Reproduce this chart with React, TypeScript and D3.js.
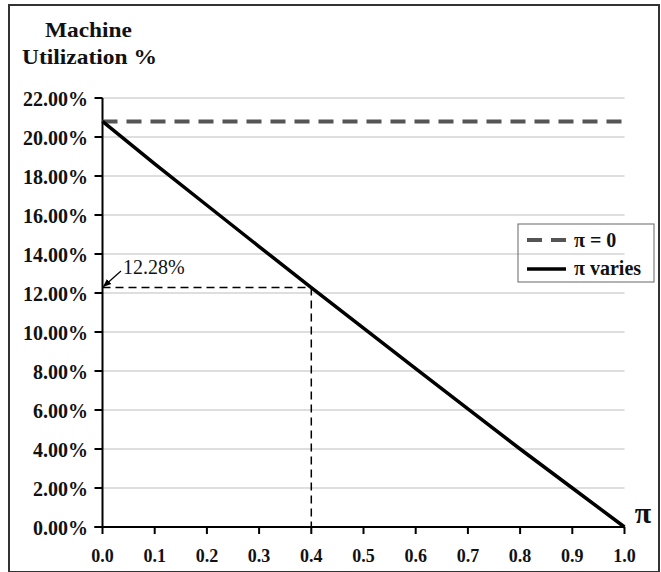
import React from "react";
import * as d3 from "d3";

const piValues = [0.0, 0.1, 0.2, 0.3, 0.4, 0.5, 0.6, 0.7, 0.8, 0.9, 1.0];
const utilVaries = [20.8, 18.62, 16.5, 14.38, 12.28, 10.2, 8.12, 6.06, 4.0, 2.0, 0.0];
const utilZero = [20.8, 20.8, 20.8, 20.8, 20.8, 20.8, 20.8, 20.8, 20.8, 20.8, 20.8];
const yTicks = [0, 2, 4, 6, 8, 10, 12, 14, 16, 18, 20, 22];
const xTicks = [0.0, 0.1, 0.2, 0.3, 0.4, 0.5, 0.6, 0.7, 0.8, 0.9, 1.0];
const markPi = 0.4;
const markValue = 12.28;
const legendLabels = ["\u03c0 = 0", "\u03c0 varies"];

const W = 661;
const H = 572;
const FONT = "Liberation Serif, DejaVu Serif, serif";

export default function App() {
  const x = d3.scaleLinear().domain([0, 1]).range([102.5, 624.5]);
  const y = d3.scaleLinear().domain([0, 22]).range([527, 98]);

  const lineVaries = d3
    .line<number>()
    .x((_, i) => x(piValues[i]))
    .y((d) => y(d))(utilVaries) as string;
  const lineZero = d3
    .line<number>()
    .x((_, i) => x(piValues[i]))
    .y((d) => y(d))(utilZero) as string;

  const lx = 518;
  const ly = 224;

  return (
    <div style={{ position: "absolute", left: 0, top: 0 }}>
      <svg width={W} height={H} style={{ display: "block", fontFamily: FONT, fontWeight: "bold" }}>
        <rect x={0} y={0} width={W} height={H} fill="#fff" />
        <rect x={9} y={5} width={650} height={567} fill="none" stroke="#333" strokeWidth={2} />

        {/* title */}
        <text x={45} y={37} fontSize={21.5} textLength={87} lengthAdjust="spacingAndGlyphs" fill="#111">Machine</text>
        <text x={22} y={64} fontSize={21.5} textLength={135} lengthAdjust="spacingAndGlyphs" fill="#111">Utilization %</text>

        {/* gridlines */}
        {yTicks.filter((t) => t > 0).map((t) => (
          <line key={"g" + t} x1={x(0)} x2={x(1)} y1={y(t)} y2={y(t)} stroke="#bdbdbd" strokeWidth={1.2} />
        ))}

        {/* marker dashed lines */}
        <line x1={x(0)} x2={x(markPi)} y1={y(markValue)} y2={y(markValue)} stroke="#000" strokeWidth={1.5} strokeDasharray="8,5" />
        <line x1={x(markPi)} x2={x(markPi)} y1={y(markValue)} y2={y(0)} stroke="#000" strokeWidth={1.5} strokeDasharray="8,5" />

        {/* axes */}
        <line x1={x(0)} x2={x(0)} y1={y(22)} y2={y(0)} stroke="#000" strokeWidth={2} />
        <line x1={x(0) - 8} x2={x(1)} y1={y(0)} y2={y(0)} stroke="#000" strokeWidth={2} />
        {yTicks.map((t) => (
          <g key={"y" + t}>
            <line x1={x(0) - 8} x2={x(0)} y1={y(t)} y2={y(t)} stroke="#000" strokeWidth={2} />
            <text x={88} y={y(t) + 8} fontSize={20} textAnchor="end" fill="#111">
              {t.toFixed(2) + "%"}
            </text>
          </g>
        ))}
        {xTicks.map((t) => (
          <g key={"x" + t}>
            <line x1={x(t)} x2={x(t)} y1={y(0)} y2={y(0) + 7} stroke="#000" strokeWidth={2} />
            <text x={x(t)} y={y(0) + 35} fontSize={18} textAnchor="middle" fill="#111">
              {t.toFixed(1)}
            </text>
          </g>
        ))}
        <text x={643} y={523} fontSize={30} textAnchor="middle" fill="#111">{"\u03c0"}</text>

        {/* series */}
        <path d={lineZero} fill="none" stroke="#555" strokeWidth={4} strokeDasharray="15,9" />
        <path d={lineVaries} fill="none" stroke="#000" strokeWidth={3.5} />

        {/* annotation */}
        <defs>
          <marker id="arr" viewBox="0 0 10 10" refX={9} refY={5} markerWidth={7} markerHeight={7} orient="auto">
            <path d="M0,1 L10,5 L0,9 z" fill="#000" />
          </marker>
        </defs>
        <line x1={121} x2={x(0) + 1} y1={271} y2={y(markValue) - 1} stroke="#000" strokeWidth={1.2} markerEnd="url(#arr)" />
        <text x={123} y={274} fontSize={20} fontWeight="normal" fill="#111">{markValue.toFixed(2) + "%"}</text>

        {/* legend */}
        <rect x={lx} y={ly} width={136} height={58} fill="none" stroke="#666" strokeWidth={1} />
        <line x1={lx + 9} x2={lx + 48} y1={ly + 16} y2={ly + 16} stroke="#555" strokeWidth={4} strokeDasharray="15,9" />
        <text x={lx + 56} y={ly + 23} fontSize={20} fill="#111">{legendLabels[0]}</text>
        <line x1={lx + 9} x2={lx + 48} y1={ly + 45} y2={ly + 45} stroke="#000" strokeWidth={3.5} />
        <text x={lx + 56} y={ly + 51} fontSize={20} fill="#111">{legendLabels[1]}</text>
      </svg>
    </div>
  );
}
